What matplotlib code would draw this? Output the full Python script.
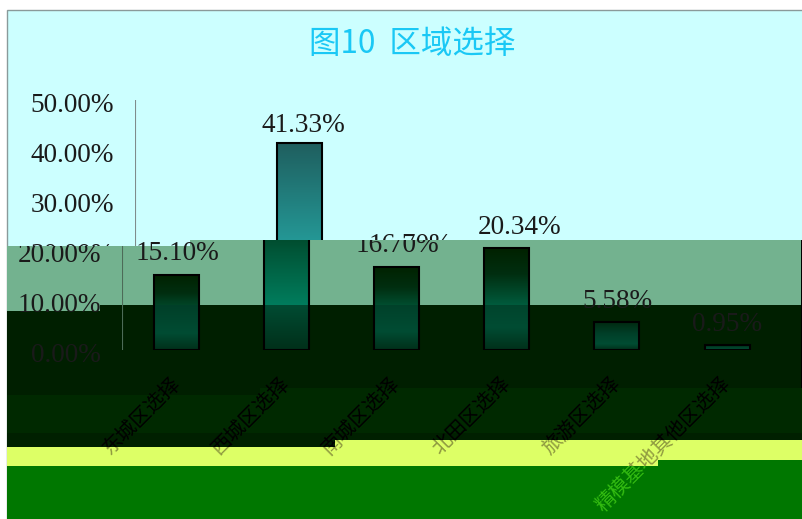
import numpy as np
import matplotlib
matplotlib.use("Agg")
import matplotlib.pyplot as plt
from matplotlib.path import Path
from matplotlib.patches import Polygon, Rectangle
from matplotlib.colors import LinearSegmentedColormap
from matplotlib.transforms import IdentityTransform, Bbox, ScaledTranslation

categories = ["东城区选择", "西城区选择", "南城区选择", "北田区选择", "旅游区选择", "精模基地其他区选择"]
values = [15.10, 41.33, 16.70, 20.34, 5.58, 0.95]
yticks = [0, 10, 20, 30, 40, 50]
title = "图10  区域选择"

W, H = 803, 519
CJK = ["Noto Sans CJK SC", "DejaVu Sans"]
NUM = "Liberation Serif"

fig = plt.figure(figsize=(W / 100, H / 100), dpi=100, facecolor="white")
renderer = fig.canvas.get_renderer()


def clip_path(points):
    return Path([(x, H - y) for x, y in points] + [(points[0][0], H - points[0][1])], closed=True)


def apply_clip(artist, path):
    artist.set_clip_on(True)
    artist.set_clip_path(path, IdentityTransform())


def box(x0, y0, x1, y1):
    """Clip box for text, given in picture pixels from the top-left corner."""
    return Bbox.from_extents(x0, H - y1, x1, H - y0)


def clip_text(text, rect):
    text.set_clip_on(True)
    text.set_clip_path(None)
    text.set_clip_box(rect)


# ---------- background stripes (figure pixels) ----------
bg = fig.add_axes([0, 0, 1, 1], zorder=0)
bg.set_xlim(0, W)
bg.set_ylim(H, 0)
bg.axis("off")
L, R = 7, W


def band(top_steps, bottom_steps, color):
    pts = []
    x0 = L
    for xe, y in top_steps:
        pts += [(x0, y), (xe, y)]
        x0 = xe
    lower = []
    x0 = L
    for xe, y in bottom_steps:
        lower += [(x0, y), (xe, y)]
        x0 = xe
    bg.add_patch(Polygon(pts + lower[::-1], closed=True, fc=color, ec="none"))


bg.add_patch(Rectangle((L, 10), R - L, H - 10, fc="#CCFFFF", ec="#8A9A9A", lw=1))
t_green = [(190, 246), (R, 240)]
t_dark = [(100, 311), (R, 305)]
t_d2 = [(260, 395), (R, 388)]
t_d3 = [(R, 433)]
t_yel = [(335, 447), (R, 440)]
t_grn = [(658, 466), (R, 460)]
t_end = [(R, H)]
band(t_green, t_dark, "#73B28F")
band(t_dark, t_d2, "#001F00")
band(t_d2, t_d3, "#002900")
band(t_d3, t_yel, "#002000")
band(t_yel, t_grn, "#DDFF66")
band(t_grn, t_end, "#007700")
bg.add_patch(Rectangle((801, 240), 2, 148, fc="black", ec="none"))

bg.text(412, 44, title, color="#1AC8F5", fontsize=22.7, family=CJK, ha="center", va="center")

# ---------- clip regions ----------
FAR = 2000
clip_up = clip_path([(0, 0), (FAR, 0), (FAR, 240), (190, 240), (190, 246), (0, 246)])
clip_lo = clip_path([(0, 246), (190, 246), (190, 240), (FAR, 240), (FAR, H), (0, H)])
clip_mid = clip_path([(0, 246), (190, 246), (190, 240), (FAR, 240), (FAR, 305), (100, 305), (100, 311), (0, 311)])
clip_low = clip_path([(0, 311), (100, 311), (100, 305), (FAR, 305), (FAR, H), (0, H)])

cm_top = LinearSegmentedColormap.from_list("t", ["#1F5F5F", "#249B99", "#28A8A4"])
cm_mid = LinearSegmentedColormap.from_list("m", [(0, "#002200"), (0.25, "#002E10"), (0.55, "#005A3C"), (0.8, "#007F5F"), (1, "#007F5F")])
cm_low = LinearSegmentedColormap.from_list("l", [(0, "#002A10"), (0.4, "#003F28"), (0.78, "#004C33"), (1, "#00301A")])
grad = np.linspace(0, 1, 128).reshape(-1, 1)

px_per_cat = 110.0
bar_w = 45 / px_per_cat
AX_L, AX_R, AX_T, AX_B = 122, 795, 100, 350
FIRST_BAR = 177
tick_nudge = ScaledTranslation(0, -2 / 100, fig.dpi_scale_trans)


def make_axes(shift, clip, text_rect, tick_rect, gradients):
    ax = fig.add_axes([(AX_L + shift) / W, (H - AX_B) / H, (AX_R - AX_L) / W, (AX_B - AX_T) / H], zorder=2)
    ax.patch.set_visible(False)
    xlim = ((AX_L - FIRST_BAR) / px_per_cat, (AX_R - FIRST_BAR) / px_per_cat)
    x = np.arange(len(values))
    for cmap, gclip in gradients:
        for xi, v in zip(x, values):
            im = ax.imshow(grad, cmap=cmap, vmin=0, vmax=1, aspect="auto", origin="upper",
                           extent=(xi - bar_w / 2, xi + bar_w / 2, 0, v), zorder=1)
            apply_clip(im, gclip)
    bars = ax.bar(x, values, bar_w, facecolor="none", edgecolor="black", linewidth=1.5, zorder=2)
    for b in bars:
        apply_clip(b, clip)
    labels = ax.bar_label(bars, labels=[f"{v:.2f}%" for v in values], padding=6,
                          fontsize=19.6, family=NUM, color="#1A1A1A", zorder=3)
    labels[1].xyann = (2.5, 3.5)
    for t in labels:
        t.set_annotation_clip(False)
        clip_text(t, text_rect)
    ax.set_xlim(*xlim)
    ax.set_ylim(0, 50)
    for s in ["top", "right", "bottom"]:
        ax.spines[s].set_visible(False)
    ax.spines["left"].set_linewidth(0.8)
    ax.spines["left"].set_color("#7F8C8C" if shift else "#4D6B58")
    apply_clip(ax.spines["left"], clip)
    ax.set_yticks(yticks)
    ax.set_yticklabels([f"{v:.2f}%" for v in yticks], fontsize=19.6, family=NUM, color="#1A1A1A")
    ax.tick_params(axis="y", length=0, pad=15)
    for t in ax.get_yticklabels():
        t.set_transform(t.get_transform() + tick_nudge)
        clip_text(t, tick_rect)
    return ax


ax_up = make_axes(13, clip_up, box(0, 0, FAR, 240), box(0, 0, FAR, 246), [(cm_top, clip_up)])
ax_up.set_xticks([])
ax_lo = make_axes(0, clip_lo, box(0, 240, FAR, H), box(0, 246, FAR, H), [(cm_mid, clip_mid), (cm_low, clip_low)])

ax_lo.set_xticks(np.arange(len(categories)))
ax_lo.set_xticklabels(categories, rotation=45, ha="right", va="center", rotation_mode="anchor",
                      fontsize=14.5, family=CJK, color="#000000")
ax_lo.tick_params(axis="x", length=0, pad=22)

regions = [
    ("#000000", box(0, 240, 335, 447)),
    ("#000000", box(335, 240, FAR, 440)),
    ("#8F9A40", box(0, 447, 335, 466)),
    ("#8F9A40", box(335, 440, 658, 466)),
    ("#8F9A40", box(658, 440, FAR, 460)),
    ("#33BB11", box(0, 466, 658, H)),
    ("#33BB11", box(658, 460, FAR, H)),
]
fig.canvas.draw()
for tick in ax_lo.get_xticklabels():
    extent = tick.get_window_extent(renderer)
    hits = [(c, r) for c, r in regions if extent.overlaps(r)]
    clip_text(tick, hits[0][1])
    tick.set_color(hits[0][0])
    for col, rect in hits[1:]:
        c = ax_lo.text(*tick.get_position(), tick.get_text(), transform=tick.get_transform(), rotation=45,
                       ha="right", va="center", rotation_mode="anchor", fontsize=14.5, family=CJK, color=col)
        clip_text(c, rect)

fig.savefig("out.png", dpi=100)
